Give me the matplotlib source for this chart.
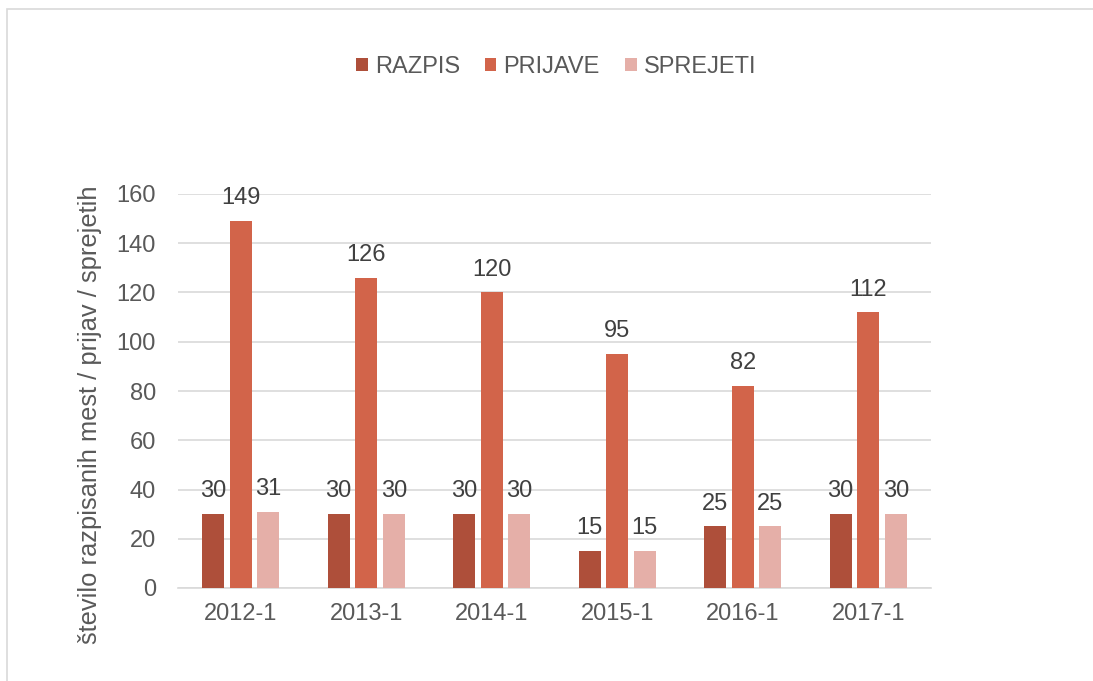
import numpy as np
import matplotlib.pyplot as plt
from matplotlib.patches import Rectangle

categories = ["2012-1", "2013-1", "2014-1", "2015-1", "2016-1", "2017-1"]
razpis = [30, 30, 30, 15, 25, 30]
prijave = [149, 126, 120, 95, 82, 112]
sprejeti = [31, 30, 30, 15, 25, 30]
yticks = [0, 20, 40, 60, 80, 100, 120, 140, 160]

series = [
    ("RAZPIS", razpis, "#AE4F3A"),
    ("PRIJAVE", prijave, "#D2644A"),
    ("SPREJETI", sprejeti, "#E5AFA8"),
]

plt.rcParams["font.family"] = ["Liberation Sans", "DejaVu Sans"]
TEXT = "#595959"
FS = 17

fig = plt.figure(figsize=(10.93, 6.81), dpi=100)
ax = fig.add_axes([178 / 1093, 1 - 588 / 681, (931 - 178) / 1093, (588 - 194) / 681])

# chart frame
fig.patches.append(Rectangle((7 / 1093, -0.01), 1.1, 1 - 9 / 681 + 0.01,
                             transform=fig.transFigure, fill=False,
                             edgecolor="#D9D9D9", linewidth=1.2))

x = np.arange(len(categories))
width = 0.176
step = 0.22
for i, (name, vals, color) in enumerate(series):
    pos = x + (i - 1) * step
    bars = ax.bar(pos, vals, width, color=color, label=name, zorder=3)
    for b, v in zip(bars, vals):
        ax.annotate(str(v), (b.get_x() + b.get_width() / 2, v),
                    xytext=(0, 12), textcoords="offset points",
                    ha="center", va="baseline", fontsize=FS, color="#404040",
                    annotation_clip=False, zorder=4)

ax.set_xlim(-0.5, len(categories) - 0.5)
ax.set_ylim(0, 160)
ax.set_yticks(yticks)
ax.set_xticks(x)
ax.set_xticklabels(categories)
ax.yaxis.grid(True, color="#D9D9D9", linewidth=1.2, zorder=0)
ax.tick_params(axis="both", length=0, labelsize=FS, labelcolor=TEXT)
ax.tick_params(axis="y", pad=16)
ax.tick_params(axis="x", pad=10.5)
for s in ["top", "right", "left"]:
    ax.spines[s].set_visible(False)
ax.spines["bottom"].set_color("#D9D9D9")
ax.spines["bottom"].set_linewidth(1.2)

fig.text(90 / 1093, 1 - 415 / 681, "število razpisanih mest / prijav / sprejetih",
         rotation=90, ha="center", va="center", fontsize=18.4, color=TEXT)

fig.legend(loc="center", bbox_to_anchor=(556 / 1093, 1 - 67 / 681), ncol=3,
           frameon=False, fontsize=FS, labelcolor=TEXT, handlelength=0.5,
           handleheight=0.5, handletextpad=0.3, columnspacing=1.05)

fig.savefig("out.png", dpi=100)
